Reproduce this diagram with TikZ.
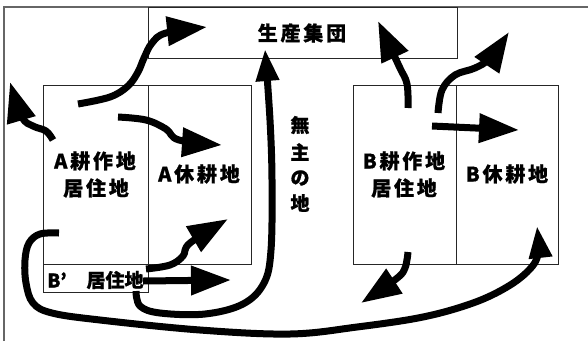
\documentclass[tikz,border=0pt]{standalone}
\usepackage{fontspec}
\setmainfont{Noto Sans CJK JP}[FakeBold=0.9]
\usetikzlibrary{arrows.meta}
\begin{document}
\begin{tikzpicture}[x=1pt,y=-1pt,
  frame/.style={draw=black!60, line width=1.3pt},
  box/.style={draw=black!85, line width=0.9pt},
  lbl/.style={font=\addfontfeatures{LetterSpace=14}\fontsize{20}{24}\bfseries\selectfont, inner sep=0pt},
  slbl/.style={font=\fontsize{19}{22}\bfseries\selectfont, inner sep=0pt},
  flow/.style={line width=7pt, line join=round, -{Triangle[length=40pt,width=28pt]}},
  smallflow/.style={line width=7pt, line join=round, -{Triangle[length=32pt,width=22pt]}},
]
\useasboundingbox (0,0) rectangle (588,341);
% frame
\draw[frame] (4,341) -- (4,7) -- (588,7);
% boxes
\draw[box] (148,7) rectangle (457,58);
\draw[box] (43,85) rectangle (148,264);
\draw[box] (148,85) rectangle (251,264);
\draw[box] (43,264) rectangle (148,292);
\draw[box] (353,85) rectangle (456,264);
\draw[box] (456,85) rectangle (558,264);
% labels
\node[lbl] (top) at (302,33) {生産集団};
\node[lbl] (aw1) at (95,161) {A耕作地};
\node[lbl] (aw2) at (96,188) {居住地};
\node[lbl] (af) at (199,174) {A休耕地};
\node[lbl] (bw1) at (404,161) {B耕作地};
\node[lbl] (bw2) at (404,188) {居住地};
\node[lbl] (bf) at (507,174) {B休耕地};
\node[slbl] (m1) at (300,125) {無};
\node[slbl] (m2) at (300,152) {主};
\node[slbl] (m3) at (300,178) {の};
\node[slbl] (m4) at (300,203) {地};
\node[slbl] (bp) at (57,280) {B’};
\node[slbl] (bp2) at (115,280) {居住地};
% arrow end points
\coordinate (a1s) at (78,104);   \coordinate (a1e) at (207,27);
\coordinate (a2s) at (53,140);   \coordinate (a2e) at (10,82);
\coordinate (a3s) at (118,117);  \coordinate (a3e) at (222,145);
\coordinate (a4s) at (59,233);   \coordinate (a4e) at (537,226);
\coordinate (a5s) at (146,269);  \coordinate (a5e) at (228,219);
\coordinate (a6s) at (143,281);  \coordinate (a6e) at (231,280);
\coordinate (a7s) at (136,291);  \coordinate (a7e) at (265,49);
\coordinate (b1s) at (408,108);  \coordinate (b1e) at (378,21);
\coordinate (b2s) at (438,113);  \coordinate (b2e) at (509,32);
\coordinate (b3s) at (432,126);  \coordinate (b3e) at (519,130);
\coordinate (b4s) at (408,252);  \coordinate (b4e) at (361,303);
% arrows
\draw[flow] plot[smooth, tension=0.6] coordinates {(a1s) (110,97) (128,86) (138,72) (144,58) (152,43) (166,33) (a1e)};
\draw[flow] plot[smooth, tension=0.6] coordinates {(a2s) (46,131) (33,126) (22,117) (a2e)};
\draw[flow] plot[smooth, tension=0.6] coordinates {(a3s) (146,120) (166,129) (179,140) (a3e)};
\draw[smallflow] plot[smooth, tension=0.6] coordinates {(a4s) (40,234) (29,243) (25,260) (26,283) (33,303) (52,313) (100,320) (200,330) (290,334) (357,327) (423,317) (473,303) (507,287) (529,270) (538,254) (a4e)};
\draw[flow] plot[smooth, tension=0.6] coordinates {(a5s) (170,265) (183,256) (190,243) (a5e)};
\draw[flow] (a6s) -- (a6e);
\draw[smallflow] plot[smooth, tension=0.6] coordinates {(a7s) (140,306) (160,313) (205,314) (243,304) (264,283) (271,250) (272,180) (270,120) (a7e)};
\draw[flow] plot[smooth, tension=0.6] coordinates {(b1s) (407,84) (399,66) (b1e)};
\draw[flow] plot[smooth, tension=0.6] coordinates {(b2s) (442,90) (455,75) (475,68) (490,58) (b2e)};
\draw[flow] (b3s) -- (b3e);
\draw[flow] plot[smooth, tension=0.6] coordinates {(b4s) (405,268) (396,279) (b4e)};
\end{tikzpicture}
\end{document}
